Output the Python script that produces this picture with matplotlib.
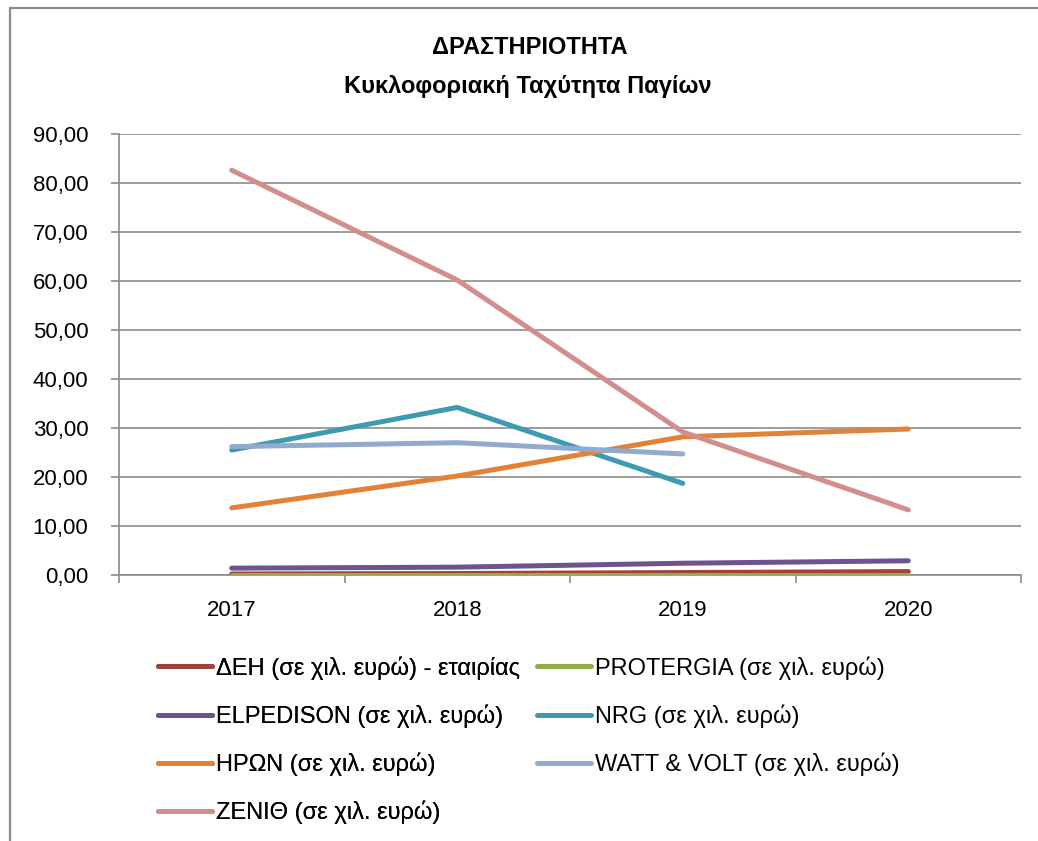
import matplotlib
matplotlib.use("Agg")
import matplotlib.pyplot as plt
from matplotlib.patches import Rectangle
from matplotlib.ticker import FuncFormatter, MultipleLocator

plt.rcParams["font.family"] = ["Liberation Sans", "DejaVu Sans"]

# ── data ──────────────────────────────────────────────────────────────────────
years = ["2017", "2018", "2019", "2020"]

deh       = [0.2, 0.3, 0.5, 0.7]
protergia = [0.05, 0.05, 0.05, 0.05]
elpedison = [1.4, 1.6, 2.4, 2.9]
nrg       = [25.5, 34.2, 18.7, None]
heron     = [13.7, 20.2, 28.2, 29.8]
watt      = [26.2, 27.0, 24.7, None]
zenith    = [82.6, 60.2, 29.2, 13.3]

labels = [
    "ΔΕΗ (σε χιλ. ευρώ) - εταιρίας",
    "PROTERGIA (σε χιλ. ευρώ)",
    "ELPEDISON (σε χιλ. ευρώ)",
    "NRG (σε χιλ. ευρώ)",
    "ΗΡΩΝ (σε χιλ. ευρώ)",
    "WATT & VOLT (σε χιλ. ευρώ)",
    "ΖΕΝΙΘ (σε χιλ. ευρώ)",
]
series = [deh, protergia, elpedison, nrg, heron, watt, zenith]
colors = ["#A6403D", "#8FAE4A", "#6E5390", "#3D9AB0", "#E0823A", "#93AACF", "#D28E8D"]

# ── figure ────────────────────────────────────────────────────────────────────
W, H = 1038, 841
fig = plt.figure(figsize=(W / 100, H / 100), dpi=100)
fig.patch.set_facecolor("white")

# outer chart border
fig.add_artist(Rectangle((10 / W, -0.01), 1.2, (H - 8) / H + 0.01,
                         transform=fig.transFigure, fill=False,
                         edgecolor="#8C8C8C", linewidth=1.6))

ax = fig.add_axes([119 / W, (H - 575) / H, (1021 - 119) / W, (575 - 134) / H])

GRID = "#8C8C8C"
x = list(range(len(years)))
for vals, lab, col in zip(series, labels, colors):
    xs = [i for i, v in zip(x, vals) if v is not None]
    ys = [v for v in vals if v is not None]
    ax.plot(xs, ys, color=col, lw=3.6, label=lab,
            solid_capstyle="round", solid_joinstyle="round", zorder=3)

ax.set_xlim(-0.5, len(years) - 0.5)
ax.set_ylim(0, 90)
ax.yaxis.set_major_locator(MultipleLocator(10))
ax.yaxis.set_major_formatter(FuncFormatter(lambda v, p: f"{v:.2f}".replace(".", ",")))
ax.grid(axis="y", color=GRID, lw=1.2, zorder=0)

ax.set_xticks(x)
ax.set_xticklabels(years)
ax.set_xticks([i - 0.5 for i in range(len(years) + 1)], minor=True)
ax.tick_params(axis="x", which="major", length=0, pad=18, labelsize=16)
ax.tick_params(axis="x", which="minor", length=6, color=GRID, width=1.2, direction="out")
ax.tick_params(axis="y", length=6, color=GRID, width=1.2, pad=16, labelsize=16)

for side in ("top", "right"):
    ax.spines[side].set_visible(False)
for side in ("left", "bottom"):
    ax.spines[side].set_color(GRID)
    ax.spines[side].set_linewidth(1.2)

# title
fig.text(530 / W, 1 - 47 / H, "ΔΡΑΣΤΗΡΙΟΤΗΤΑ", ha="center", va="center",
         fontsize=17, fontweight="bold")
fig.text(528 / W, 1 - 86 / H, "Κυκλοφοριακή Ταχύτητα Παγίων", ha="center", va="center",
         fontsize=17, fontweight="bold")

# legend: two columns filled row-wise, each placed on its own
handles, labs = ax.get_legend_handles_labels()
leg_kw = dict(loc="upper left", frameon=False, fontsize=17, handlelength=2.3,
              handletextpad=0.17, labelspacing=1.05, borderaxespad=0, borderpad=0)
left_col = [0, 2, 4, 6]
right_col = [1, 3, 5]
leg1 = fig.legend([handles[i] for i in left_col], [labs[i] for i in left_col],
                  bbox_to_anchor=(158 / W, 1 - 656 / H), **leg_kw)
fig.add_artist(leg1)
fig.legend([handles[i] for i in right_col], [labs[i] for i in right_col],
           bbox_to_anchor=(537 / W, 1 - 656 / H), **leg_kw)

fig.savefig("out.png", dpi=100, facecolor="white")
